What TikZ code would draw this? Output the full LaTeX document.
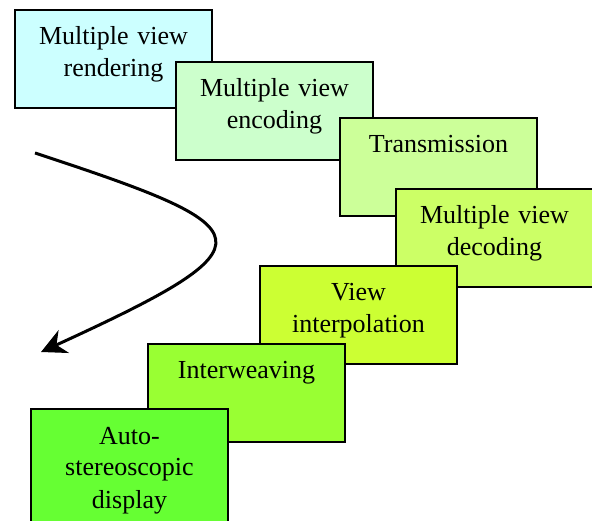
\documentclass[tikz,border=0pt]{standalone}
\usepackage{fontspec}
\setmainfont{Liberation Serif}
\usetikzlibrary{arrows.meta}
\definecolor{renderfill}{HTML}{CCFFFF}
\definecolor{encodefill}{HTML}{CCFFCC}
\definecolor{transfill}{HTML}{CCFF99}
\definecolor{decodefill}{HTML}{CCFF66}
\definecolor{interpfill}{HTML}{CCFF33}
\definecolor{weavefill}{HTML}{99FF33}
\definecolor{displayfill}{HTML}{66FF33}
\tikzset{
    stage/.style={draw, line width=2pt, anchor=north west, inner xsep=6pt, inner ysep=0pt,
        text width=185pt, align=center, text height=35pt, text depth=63pt,
        font=\fontsize{26}{32}\selectfont},
    swing/.style={line width=3pt, -{Stealth[length=25pt,width=25pt,inset=8pt]}}
}
\begin{document}
\begin{tikzpicture}[x=1pt, y=-1pt]
    \useasboundingbox (0,0) rectangle (592,521);
    \clip (0,0) rectangle (592,521);
    \node[stage, fill=renderfill] (render) at (14,9) {Multiple view\\rendering};
    \node[stage, fill=encodefill] (encode) at (175,61) {Multiple view\\encoding};
    \node[stage, fill=transfill] (trans) at (339,117) {Transmission};
    \node[stage, fill=decodefill] (decode) at (395,188) {Multiple view\\decoding};
    \node[stage, fill=interpfill] (interp) at (259,265) {View\\interpolation};
    \node[stage, fill=weavefill] (weave) at (147,343) {Interweaving};
    \node[stage, fill=displayfill, text depth=130pt] (display) at (30,408) {Auto-\\stereoscopic\\display};
    \coordinate (swingstart) at (35,153);
    \coordinate (swingend) at (41,352);
    \draw[swing] (swingstart) .. controls (266,229) and (279,243) .. (swingend);
\end{tikzpicture}
\end{document}
